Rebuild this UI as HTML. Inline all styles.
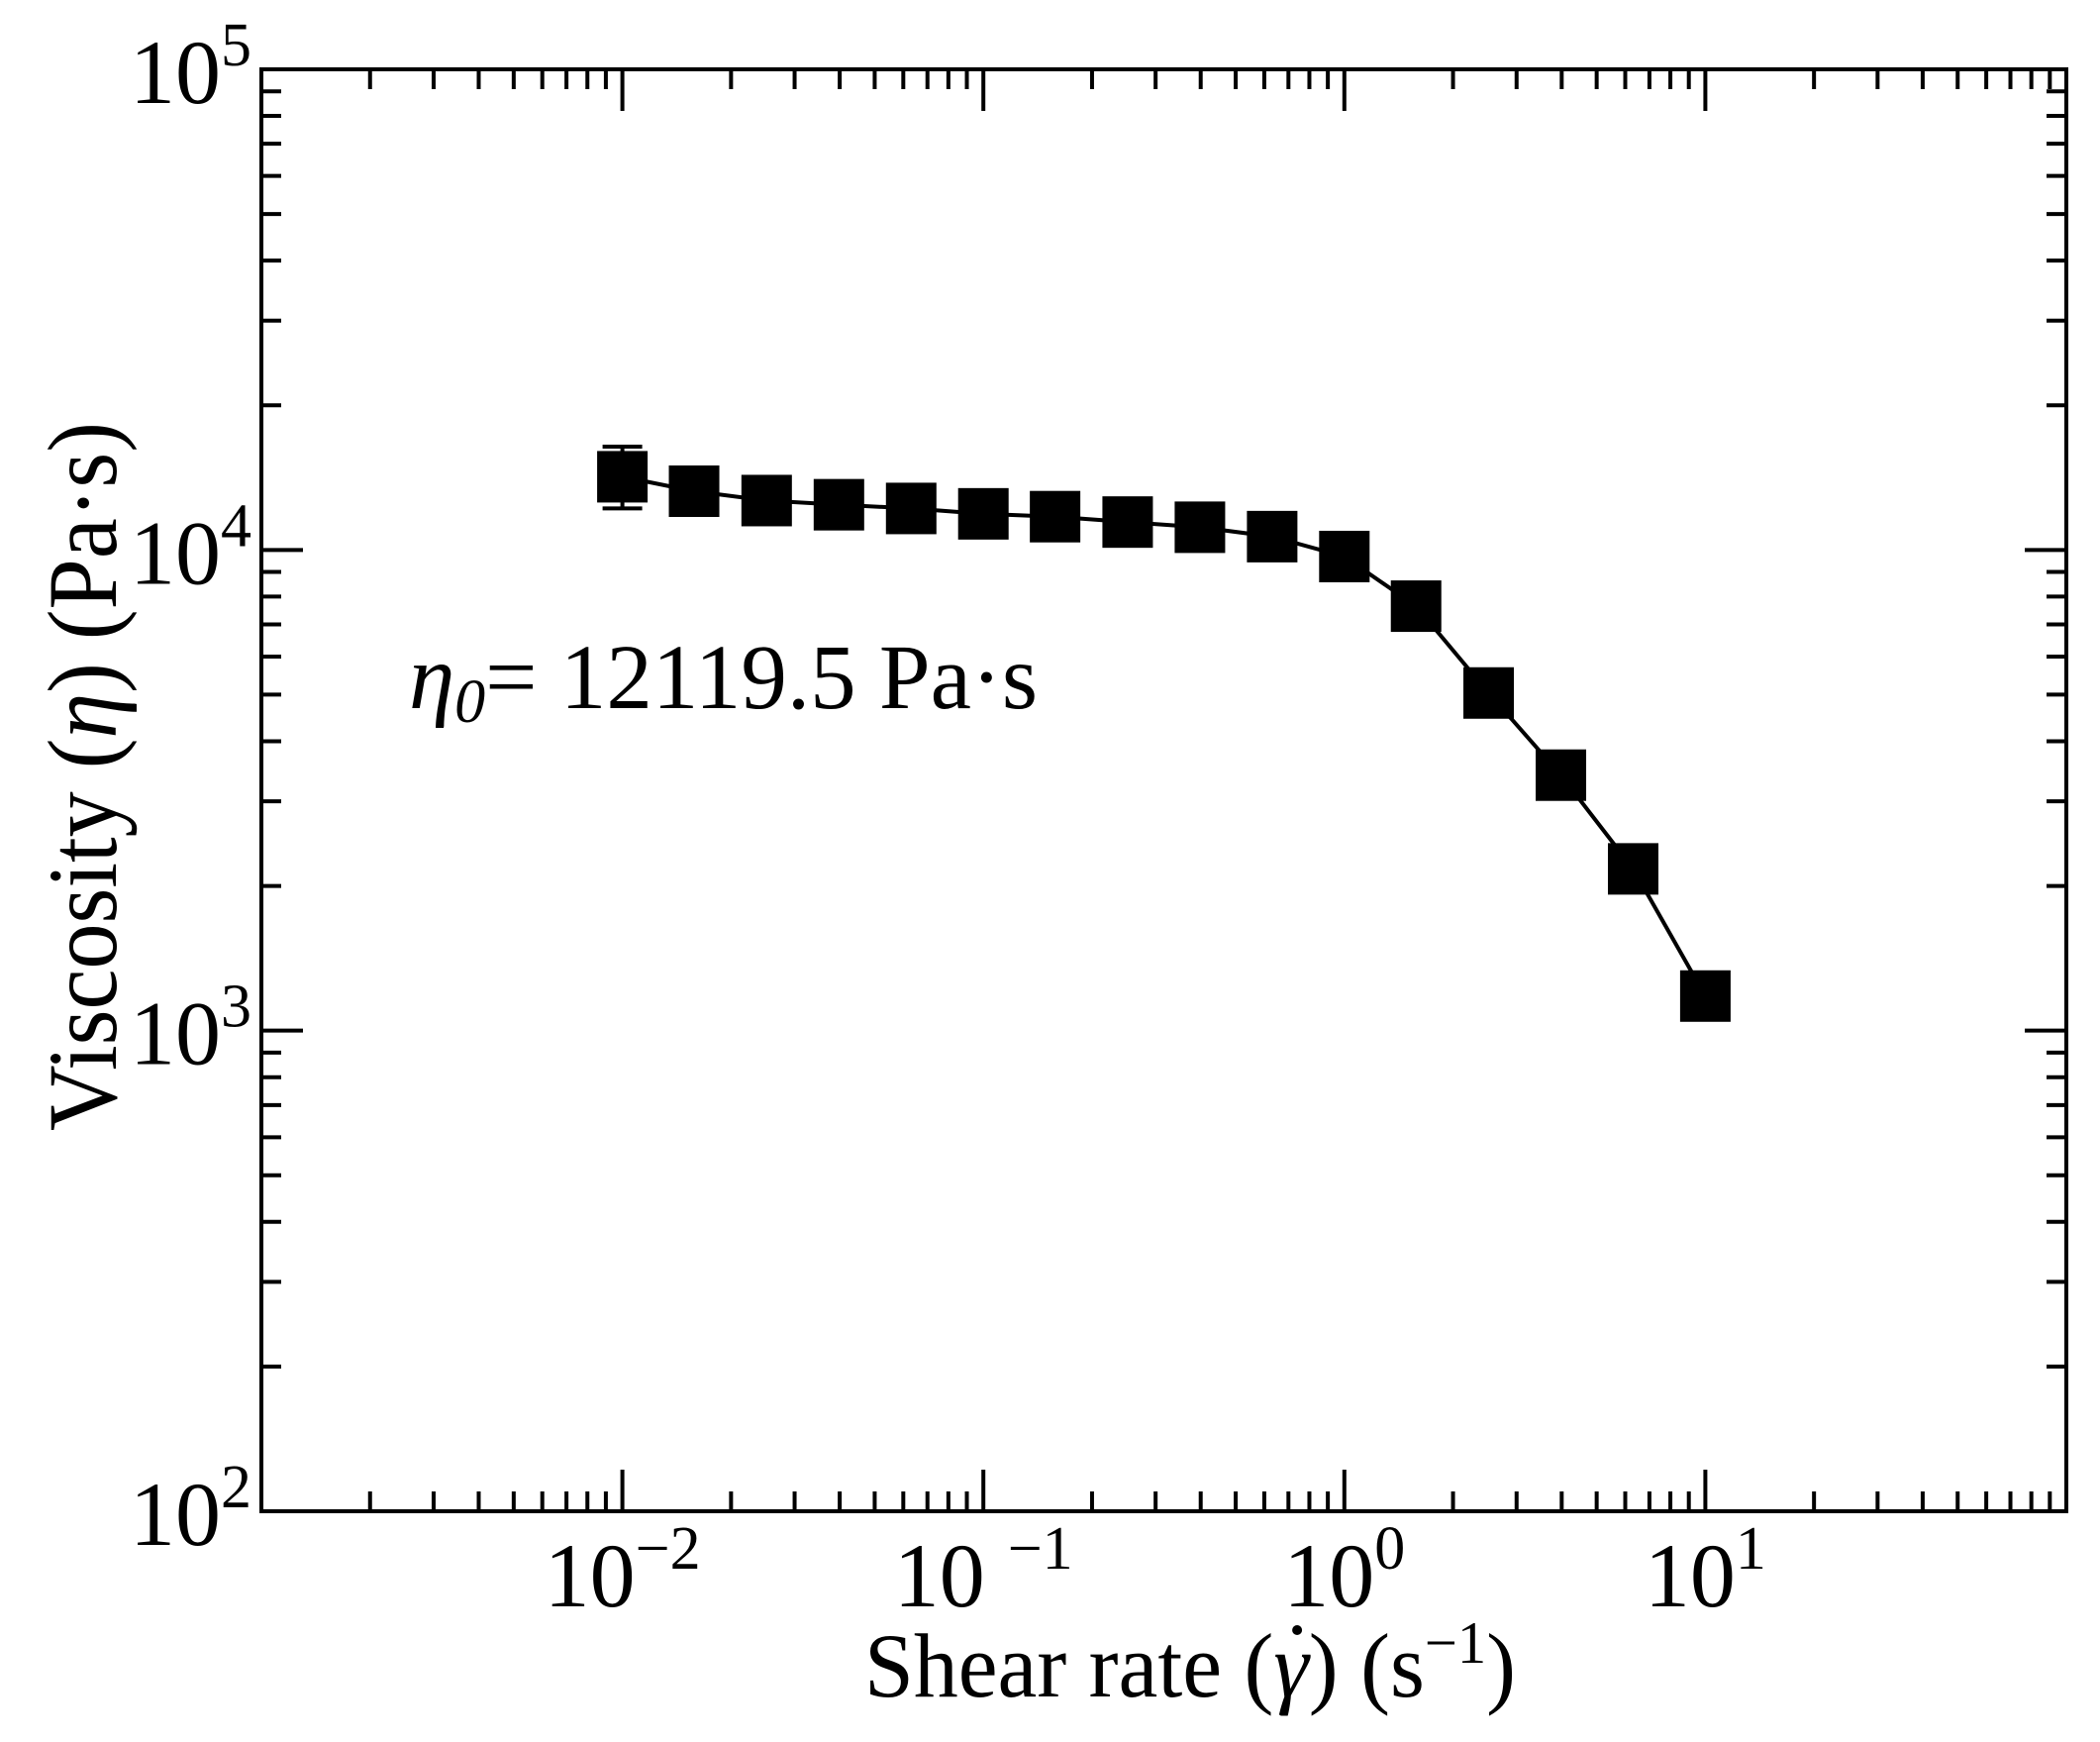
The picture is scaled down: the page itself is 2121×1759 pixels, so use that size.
<!DOCTYPE html>
<html><head><meta charset="utf-8"><style>
html,body{margin:0;padding:0;background:#fff;}
svg{display:block;font-family:"Liberation Serif","DejaVu Serif",serif;}
</style></head><body>
<svg id="chart" width="2121" height="1759" viewBox="0 0 2121 1759" xmlns="http://www.w3.org/2000/svg">
<g id="ticks" stroke="#000" stroke-width="4"></g>
<g id="labels" font-size="92" fill="#000"></g>
<g id="series"></g>
<rect x="264" y="70" width="1823" height="1456" fill="none" stroke="#000" stroke-width="4"/>
<text id="xtitle" x="873" y="1713" font-size="92" textLength="658" lengthAdjust="spacingAndGlyphs">Shear rate (<tspan font-style="italic">γ</tspan>) (s<tspan dy="-34" font-size="60">−1</tspan><tspan dy="34">)</tspan></text>
<circle id="gdot" cx="0" cy="1646" r="5" fill="#000"/>
<text transform="translate(117,1142) rotate(-90)" font-size="100" textLength="716" lengthAdjust="spacingAndGlyphs">Viscosity (<tspan font-style="italic">η</tspan>) (Pa·s)</text>
<text x="413" y="715" font-size="93"><tspan font-style="italic">η</tspan><tspan font-style="italic" font-size="62" dy="14">0</tspan><tspan dy="-14">= 12119.5 Pa·s</tspan></text>
</svg>
<script>
const xDecades = [-3, -2, -1, 0, 1, 2];
const yDecades = [2, 3, 4, 5];
const xTickExps = ["−2", "−1", "0", "1"];
const xLabelDecades = [-2, -1, 0, 1];
const yTickExps = ["2", "3", "4", "5"];
const shearRate = [0.01, 0.0158, 0.0251, 0.0398, 0.0631, 0.1, 0.158, 0.251, 0.398, 0.631, 1, 1.58, 2.51, 3.98, 6.31, 10];
const viscosity = [14200, 13250, 12670, 12420, 12200, 11890, 11730, 11430, 11150, 10660, 9690, 7640, 5040, 3400, 2170, 1180];
const errLow = [12200];
const errHigh = [16400];

const L=264,R=2087,T=70,B=1526;
const X0=-3,X1=2,Y0=2,Y1=5;
const xs = v => L + (Math.log10(v)-X0)/(X1-X0)*(R-L);
const ys = v => B - (Math.log10(v)-Y0)/(Y1-Y0)*(B-T);
const NS='http://www.w3.org/2000/svg';
function mk(tag, attrs, parent){const e=document.createElementNS(NS,tag);for(const k in attrs)e.setAttribute(k,attrs[k]);parent.appendChild(e);return e;}
const tk=document.getElementById('ticks');
const lb=document.getElementById('labels');
const sr=document.getElementById('series');

for(let d=X0; d<X1; d++){
  for(let m=1;m<=9;m++){
    const v=m*Math.pow(10,d);
    const x=xs(v);
    const len = m===1?42:20;
    const t1=mk('line',{x1:x,y1:B,x2:x,y2:B-len},tk);
    
    
    const t2=mk('line',{x1:x,y1:T,x2:x,y2:T+len},tk);
    
    
  }
}
for(let d=Y0; d<Y1; d++){
  for(let m=1;m<=9;m++){
    const v=m*Math.pow(10,d);
    const y=ys(v);
    const len = m===1?42:20;
    const t1=mk('line',{x1:L,y1:y,x2:L+len,y2:y},tk);
    
    
    const t2=mk('line',{x1:R,y1:y,x2:R-len,y2:y},tk);
    
    
  }
}
xLabelDecades.forEach((d,i)=>{
  const x=xs(Math.pow(10,d));
  const t=mk('text',{x:x,y:1622,'text-anchor':'middle'},lb);
  
  
  t.innerHTML = (d===-1?'10 ':'10')+'<tspan dy="-38" font-size="62">'+xTickExps[i]+'</tspan>';
});
yDecades.forEach((d,i)=>{
  const y=ys(Math.pow(10,d));
  const t=mk('text',{x:254,y:y+34,'text-anchor':'end'},lb);
  
  
  t.innerHTML = '10<tspan dy="-38" font-size="62">'+yTickExps[i]+'</tspan>';
});
const pts=shearRate.map((v,i)=>xs(v)+','+ys(viscosity[i])).join(' ');
const pl=mk('polyline',{points:pts,fill:'none',stroke:'#000','stroke-width':4},sr);


errLow.forEach((lo,i)=>{
  const x=xs(shearRate[i]);
  const g=mk('g',{stroke:'#000','stroke-width':4},sr);
  
  
  mk('line',{x1:x,y1:ys(lo),x2:x,y2:ys(errHigh[i])},g);
  mk('line',{x1:x-20,y1:ys(lo),x2:x+20,y2:ys(lo)},g);
  mk('line',{x1:x-20,y1:ys(errHigh[i]),x2:x+20,y2:ys(errHigh[i])},g);
});
shearRate.forEach((v,i)=>{
  const r=mk('rect',{x:xs(v)-25.5,y:ys(viscosity[i])-26,width:51,height:52,fill:'#000'},sr);
  
  
});
try{
  const xt=document.getElementById('xtitle');
  const idx=xt.textContent.indexOf('γ');
  const s=xt.getStartPositionOfChar(idx), e=xt.getEndPositionOfChar(idx);
  document.getElementById('gdot').setAttribute('cx', (s.x+e.x)/2+6);
}catch(err){document.getElementById('gdot').setAttribute('cx',1307);}
</script>
</body></html>
